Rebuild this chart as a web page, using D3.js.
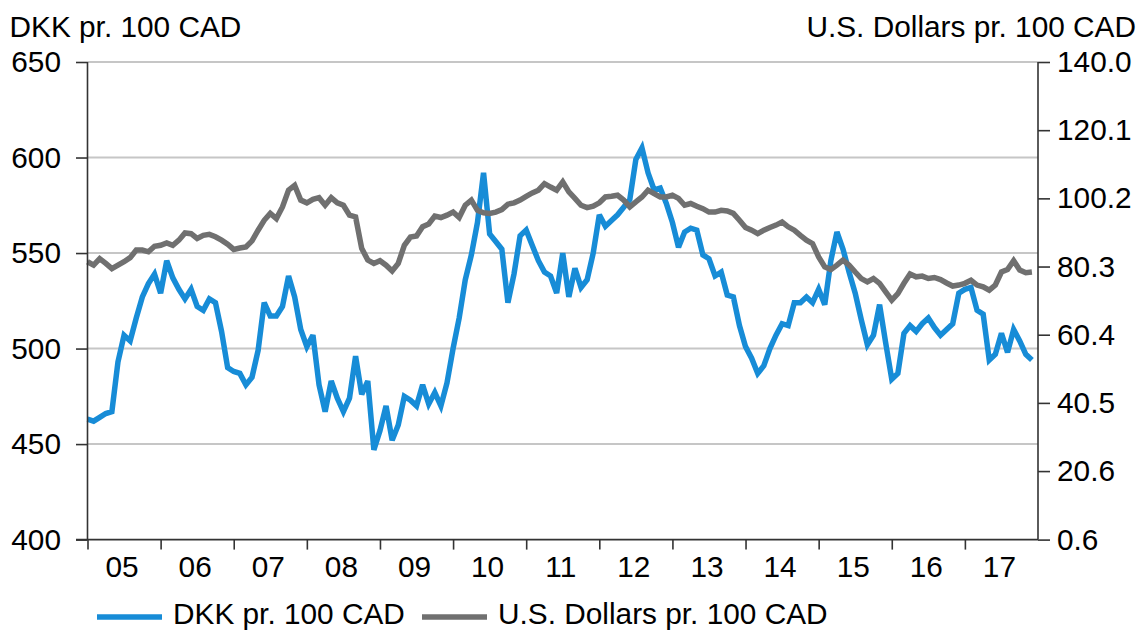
<!DOCTYPE html>
<html>
<head>
<meta charset="utf-8">
<script src="https://cdn.jsdelivr.net/npm/d3@7/dist/d3.min.js"></script>
<style>
  html, body { margin: 0; padding: 0; background: #ffffff; }
  svg text { font-family: "Liberation Sans", Arial, sans-serif; fill: #000; }
</style>
</head>
<body>
<svg id="chart" width="1141" height="630"></svg>
<script>
// ---- Data (monthly, Jan 2005 – Dec 2017) ----
const startYear = 2005;
const yearLabels = ["05","06","07","08","09","10","11","12","13","14","15","16","17"];
const leftTicks = [400, 450, 500, 550, 600, 650];
const rightTicks = [0.6, 20.6, 40.5, 60.4, 80.3, 100.2, 120.1, 140.0];
const seriesNames = ["DKK pr. 100 CAD", "U.S. Dollars pr. 100 CAD"];

const dkk = [
  463,462,464,466,467,493,507,504,516,527,534,539,
  529,546,537,531,526,531,522,520,526,524,509,490,
  488,487,481,485,499,524,517,517,522,538,527,510,
  501,507,481,467,483,474,467,474,496,476,483,447,
  457,470,452,460,475,473,470,481,471,477,470,482,
  500,516,536,549,566,592,560,556,552,524,539,559,
  562,554,546,540,538,529,550,527,542,532,536,550,
  570,564,567,570,574,578,599,605,592,583,584,576,
  566,553,561,563,562,549,547,538,540,528,527,512,
  501,495,487,491,500,507,513,512,524,524,527,524,
  531,523,546,561,552,540,529,515,502,507,523,503,
  484,487,508,512,509,513,516,511,507,510,513,529,
  531,532,520,518,494,497,508,498,510,504,497,494
];

const usd = [
  81.7,80.7,82.6,81.2,79.7,80.7,81.7,82.9,85.1,85.1,84.6,86.2,
  86.5,87.2,86.5,88.0,90.1,89.9,88.5,89.4,89.7,89.0,88.0,86.8,
  85.3,85.7,86.0,87.8,90.9,93.8,95.8,94.3,97.7,102.6,104.0,99.7,
  98.9,99.9,100.4,98.2,100.4,98.9,98.2,95.3,94.8,85.6,82.2,81.2,
  82.0,80.7,79.0,81.2,86.5,88.9,89.2,91.9,92.7,95.0,94.6,95.3,
  96.2,94.6,98.2,99.7,96.7,96.0,95.8,96.2,96.9,98.5,98.9,99.7,
  100.8,101.8,102.6,104.5,103.5,102.6,105.0,102.1,100.2,98.2,97.5,97.9,
  98.9,100.6,100.8,101.1,99.7,97.7,99.2,100.6,102.6,101.6,100.6,100.6,
  101.1,100.2,98.2,98.7,97.9,97.2,96.2,96.2,96.7,96.5,95.8,93.8,
  91.7,90.9,89.9,90.9,91.7,92.4,93.3,91.9,90.9,89.4,88.0,87.0,
  83.1,80.2,79.4,80.7,82.2,80.7,78.7,76.8,75.8,76.8,75.4,72.9,
  70.5,72.4,75.4,78.1,77.3,77.5,76.8,77.1,76.5,75.5,74.6,74.9,
  75.4,76.3,74.9,74.4,73.4,74.9,78.7,79.4,82.0,79.3,78.5,78.7
];

// month positions (decimal years)
const months = dkk.map((_, i) => startYear + i / 12);

// ---- Layout ----
const svg = d3.select("#chart");
const plotLeft = 87.5, plotRight = 1038, plotTop = 62, plotBottom = 539.6;
const axisColor = "#333333";
const gridColor = "#c6c6c6";
const blue = "#178cd7";
const grey = "#707070";
const fontSize = 29.8;
const lineWidth = 5.5;

const x = d3.scaleLinear().domain([startYear, startYear + yearLabels.length]).range([plotLeft, plotRight]);
const yL = d3.scaleLinear().domain([400, 650]).range([plotBottom, plotTop]);
const yR = d3.scaleLinear().domain([0.6, 140.0]).range([plotBottom, plotTop]);

// gridlines
svg.append("g").selectAll("line")
  .data(leftTicks.filter(d => d > 400))
  .join("line")
  .attr("x1", plotLeft).attr("x2", plotRight)
  .attr("y1", d => yL(d)).attr("y2", d => yL(d))
  .attr("stroke", gridColor).attr("stroke-width", 2);

// lines
const lineL = d3.line().x((d, i) => x(months[i])).y(d => yL(d));
const lineR = d3.line().x((d, i) => x(months[i])).y(d => yR(d));

svg.append("path").datum(dkk)
  .attr("d", lineL).attr("fill", "none")
  .attr("stroke", blue).attr("stroke-width", lineWidth)
  .attr("stroke-linejoin", "miter").attr("stroke-miterlimit", 3);

svg.append("path").datum(usd)
  .attr("d", lineR).attr("fill", "none")
  .attr("stroke", grey).attr("stroke-width", lineWidth)
  .attr("stroke-linejoin", "miter").attr("stroke-miterlimit", 3);

// left axis
const gL = svg.append("g").attr("transform", `translate(${plotLeft},0)`);
gL.call(d3.axisLeft(yL).tickValues(leftTicks).tickSize(11.5).tickPadding(15).tickFormat(d3.format("d")));
// right axis
const gR = svg.append("g").attr("transform", `translate(${plotRight},0)`);
gR.call(d3.axisRight(yR).tickValues(rightTicks).tickSize(12).tickPadding(7).tickFormat(d3.format(".1f")));
// bottom axis (ticks at year boundaries)
const yearTicks = d3.range(startYear, startYear + yearLabels.length);
const gB = svg.append("g").attr("transform", `translate(0,${plotBottom})`);
gB.call(d3.axisBottom(x).tickValues(yearTicks).tickSize(10).tickFormat(""));

[gL, gR, gB].forEach(g => {
  g.select(".domain").attr("stroke", axisColor).attr("stroke-width", 1.6);
  g.selectAll(".tick line").attr("stroke", axisColor).attr("stroke-width", 1.6);
  g.selectAll("text").attr("font-size", fontSize).attr("font-family", "Liberation Sans, Arial, sans-serif").attr("fill", "#000");
});
gL.select(".domain").attr("d", `M0,${plotTop}V${plotBottom}`);
gR.select(".domain").attr("d", `M0,${plotTop}V${plotBottom}`);
gB.select(".domain").attr("d", `M${plotLeft - 11.5},0H${plotRight}`);

// year labels centered within each year
svg.append("g").selectAll("text")
  .data(yearLabels)
  .join("text")
  .attr("x", (d, i) => x(startYear + i + 0.5) - 2)
  .attr("y", 577)
  .attr("text-anchor", "middle")
  .attr("font-size", fontSize)
  .text(d => d);

// axis titles
svg.append("text").attr("x", 9.5).attr("y", 37.3).attr("font-size", fontSize).text(seriesNames[0]);
svg.append("text").attr("x", 1136).attr("y", 37.3).attr("text-anchor", "end").attr("font-size", fontSize).text(seriesNames[1]);

// legend
const legend = svg.append("g");
const legendItems = [
  { name: seriesNames[0], color: blue, x0: 97 },
  { name: seriesNames[1], color: grey, x0: 422 }
];
legendItems.forEach(it => {
  legend.append("line")
    .attr("x1", it.x0).attr("x2", it.x0 + 65)
    .attr("y1", 617).attr("y2", 617)
    .attr("stroke", it.color).attr("stroke-width", lineWidth);
  legend.append("text")
    .attr("x", it.x0 + 76).attr("y", 624)
    .attr("font-size", fontSize)
    .text(it.name);
});
</script>
</body>
</html>
